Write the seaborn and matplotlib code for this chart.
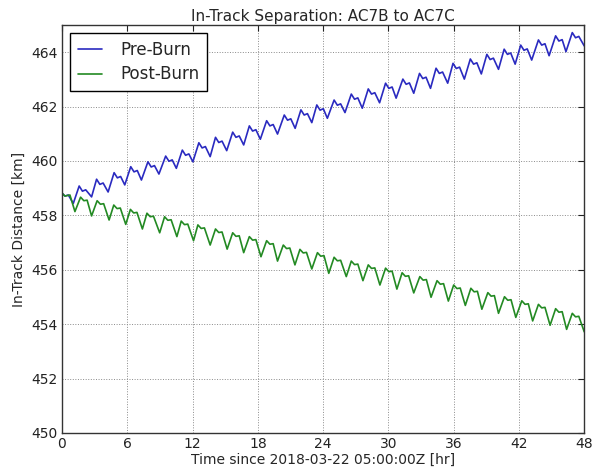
import matplotlib
matplotlib.use("Agg")
import matplotlib.pyplot as plt
import seaborn as sns
import pandas as pd

# ---- data (hours, km) ----
pre_burn_hr = [
    0.0, 0.27, 0.58,
    1.04, 1.58, 1.88, 2.18,
    2.72, 3.18, 3.48, 3.78,
    4.24, 4.79, 5.09, 5.39,
    5.77, 6.32, 6.62, 6.92,
    7.30, 7.90, 8.20, 8.50,
    8.91, 9.53, 9.83, 10.13,
    10.51, 11.06, 11.36, 11.66,
    12.03, 12.58, 12.88, 13.18,
    13.62, 14.11, 14.41, 14.71,
    15.14, 15.69, 15.99, 16.29,
    16.70, 17.22, 17.52, 17.82,
    18.23, 18.81, 19.11, 19.41,
    19.81, 20.43, 20.73, 21.03,
    21.43, 21.96, 22.26, 22.56,
    22.96, 23.42, 23.72, 24.02,
    24.39, 25.01, 25.31, 25.61,
    26.01, 26.59, 26.89, 27.19,
    27.60, 28.15, 28.45, 28.75,
    29.19, 29.74, 30.04, 30.34,
    30.71, 31.33, 31.63, 31.93,
    32.33, 32.86, 33.16, 33.46,
    33.87, 34.38, 34.68, 34.98,
    35.45, 35.94, 36.24, 36.54,
    36.98, 37.53, 37.83, 38.13,
    38.54, 39.05, 39.35, 39.65,
    40.12, 40.64, 40.94, 41.24,
    41.65, 42.16, 42.46, 42.76,
    43.17, 43.79, 44.09, 44.39,
    44.77, 45.37, 45.67, 45.97,
    46.32, 46.90, 47.20, 47.50,
    48.0,
]
pre_burn_km = [
    458.82, 458.71, 458.75,
    458.44, 459.08, 458.89, 458.94,
    458.68, 459.33, 459.14, 459.19,
    458.86, 459.57, 459.38, 459.43,
    459.12, 459.79, 459.60, 459.65,
    459.30, 459.97, 459.78, 459.83,
    459.52, 460.18, 459.99, 460.04,
    459.73, 460.40, 460.21, 460.26,
    459.97, 460.67, 460.48, 460.53,
    460.16, 460.87, 460.68, 460.73,
    460.38, 461.06, 460.87, 460.92,
    460.59, 461.29, 461.10, 461.15,
    460.80, 461.48, 461.29, 461.34,
    460.99, 461.69, 461.50, 461.55,
    461.20, 461.88, 461.69, 461.74,
    461.41, 462.06, 461.87, 461.92,
    461.57, 462.24, 462.05, 462.10,
    461.78, 462.46, 462.27, 462.32,
    461.94, 462.65, 462.46, 462.51,
    462.14, 462.86, 462.67, 462.72,
    462.31, 463.01, 462.82, 462.87,
    462.49, 463.22, 463.03, 463.08,
    462.67, 463.41, 463.22, 463.27,
    462.86, 463.59, 463.40, 463.45,
    463.01, 463.75, 463.56, 463.61,
    463.20, 463.92, 463.73, 463.78,
    463.37, 464.11, 463.92, 463.97,
    463.56, 464.26, 464.07, 464.12,
    463.71, 464.45, 464.26, 464.31,
    463.87, 464.60, 464.41, 464.46,
    464.02, 464.72, 464.53, 464.58,
    464.23,
]

post_burn_hr = [
    0.0, 0.27, 0.73,
    1.19, 1.71, 2.01, 2.31,
    2.72, 3.23, 3.53, 3.83,
    4.33, 4.76, 5.06, 5.36,
    5.86, 6.29, 6.59, 6.89,
    7.39, 7.81, 8.11, 8.41,
    8.98, 9.43, 9.73, 10.03,
    10.56, 10.96, 11.26, 11.56,
    12.09, 12.49, 12.79, 13.09,
    13.62, 14.11, 14.41, 14.71,
    15.18, 15.69, 15.99, 16.29,
    16.70, 17.22, 17.52, 17.82,
    18.29, 18.81, 19.11, 19.41,
    19.81, 20.34, 20.64, 20.94,
    21.41, 21.87, 22.17, 22.47,
    22.96, 23.48, 23.78, 24.08,
    24.52, 25.01, 25.31, 25.61,
    26.13, 26.59, 26.89, 27.19,
    27.66, 28.15, 28.45, 28.75,
    29.22, 29.74, 30.04, 30.34,
    30.78, 31.26, 31.56, 31.86,
    32.33, 32.89, 33.19, 33.49,
    33.92, 34.47, 34.77, 35.07,
    35.51, 36.00, 36.30, 36.60,
    37.07, 37.58, 37.88, 38.18,
    38.59, 39.14, 39.44, 39.74,
    40.12, 40.67, 40.97, 41.27,
    41.71, 42.26, 42.56, 42.86,
    43.26, 43.79, 44.09, 44.39,
    44.86, 45.37, 45.67, 45.97,
    46.38, 46.90, 47.20, 47.50,
    48.0,
]
post_burn_km = [
    458.82, 458.71, 458.75,
    458.14, 458.67, 458.54, 458.56,
    457.98, 458.54, 458.41, 458.43,
    457.83, 458.38, 458.25, 458.27,
    457.67, 458.22, 458.09, 458.11,
    457.50, 458.08, 457.95, 457.97,
    457.36, 457.95, 457.82, 457.84,
    457.22, 457.79, 457.66, 457.68,
    457.07, 457.65, 457.52, 457.54,
    456.91, 457.50, 457.37, 457.39,
    456.76, 457.36, 457.23, 457.25,
    456.63, 457.22, 457.09, 457.11,
    456.48, 457.07, 456.94, 456.96,
    456.32, 456.91, 456.78, 456.80,
    456.18, 456.75, 456.62, 456.64,
    456.03, 456.63, 456.50, 456.52,
    455.87, 456.46, 456.33, 456.35,
    455.75, 456.32, 456.19, 456.21,
    455.60, 456.18, 456.05, 456.07,
    455.44, 456.06, 455.93, 455.95,
    455.29, 455.89, 455.76, 455.78,
    455.15, 455.75, 455.62, 455.64,
    454.99, 455.60, 455.47, 455.49,
    454.85, 455.44, 455.31, 455.33,
    454.69, 455.32, 455.19, 455.21,
    454.55, 455.16, 455.03, 455.05,
    454.40, 455.01, 454.88, 454.90,
    454.25, 454.86, 454.73, 454.75,
    454.12, 454.73, 454.60, 454.62,
    453.96, 454.57, 454.44, 454.46,
    453.81, 454.40, 454.27, 454.29,
    453.72,
]

series_names = ["Pre-Burn", "Post-Burn"]
x_ticks = [0, 6, 12, 18, 24, 30, 36, 42, 48]
y_ticks = [450, 452, 454, 456, 458, 460, 462, 464]

df = pd.concat([
    pd.DataFrame({"t": pre_burn_hr, "km": pre_burn_km, "Series": series_names[0]}),
    pd.DataFrame({"t": post_burn_hr, "km": post_burn_km, "Series": series_names[1]}),
], ignore_index=True)

sns.set_style("white")
plt.rcParams["font.family"] = ["DejaVu Sans"]
plt.rcParams["xtick.direction"] = "in"
plt.rcParams["ytick.direction"] = "in"

fig = plt.figure(figsize=(5.92, 4.74), dpi=100)
ax = fig.add_axes([0.1047, 0.0865, 0.8822, 0.8608])

sns.lineplot(data=df, x="t", y="km", hue="Series", estimator=None, sort=False,
             palette={"Pre-Burn": "#2a2ac0", "Post-Burn": "#238a23"},
             linewidth=1.2, ax=ax)

ax.set_xlim(0, 48)
ax.set_ylim(450, 465)
ax.set_xticks(x_ticks)
ax.set_yticks(y_ticks)
ax.tick_params(axis="both", which="both", direction="in", top=True, right=True,
               length=4, width=0.8, labelsize=10, pad=3, colors="#222222")
ax.grid(True, linestyle=":", color="#8a8a8a", linewidth=0.7)
for s in ax.spines.values():
    s.set_visible(True)
    s.set_color("#333333")
    s.set_linewidth(1.0)

ax.set_title("In-Track Separation: AC7B to AC7C", fontsize=11, pad=3)
ax.set_xlabel("Time since 2018-03-22 05:00:00Z [hr]", fontsize=10, labelpad=1)
ax.set_ylabel("In-Track Distance [km]", fontsize=10, labelpad=4)

leg = ax.legend(loc="upper left", fontsize=12, frameon=True, fancybox=False,
                edgecolor="black", framealpha=1, borderpad=0.45, handlelength=1.45,
                handletextpad=1.1, labelspacing=0.4, borderaxespad=0.5)
leg.get_frame().set_linewidth(1.0)

fig.savefig("out.png", dpi=100)
